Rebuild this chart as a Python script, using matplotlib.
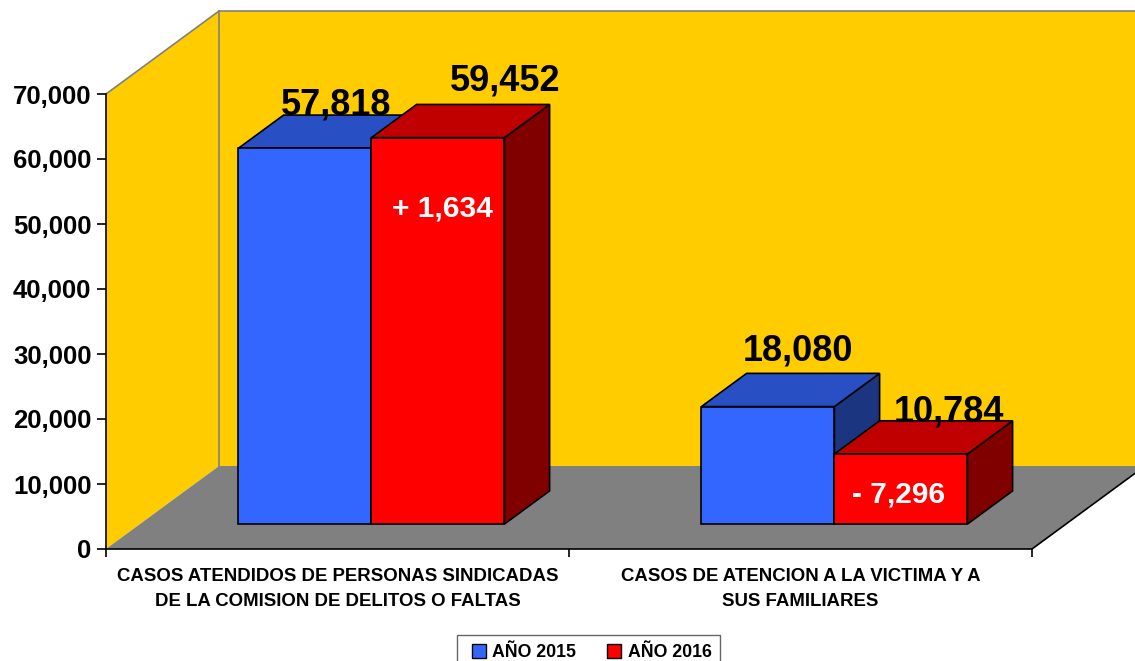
import matplotlib
matplotlib.use('Agg')
import matplotlib.pyplot as plt
from matplotlib.patches import Polygon
from matplotlib.lines import Line2D

# ---------------- data ----------------
categories = ["CASOS ATENDIDOS DE PERSONAS SINDICADAS\nDE LA COMISION DE DELITOS O FALTAS",
              "CASOS DE ATENCION A LA VICTIMA Y A\nSUS FAMILIARES"]
series_names = ["AÑO 2015", "AÑO 2016"]
values_2015 = [57818, 18080]
values_2016 = [59452, 10784]
yticks = [0, 10000, 20000, 30000, 40000, 50000, 60000, 70000]

# ---------------- style ----------------
plt.rcParams['font.family'] = ['Liberation Sans', 'DejaVu Sans']
plt.rcParams['font.weight'] = 'bold'

YELLOW = '#FFCC00'
FLOOR = '#808080'
WALL_EDGE = '#808080'
face_colors = [('#3366FF', '#2850C4', '#1C3580'),   # front, top, side
               ('#FF0000', '#C00000', '#800000')]

W, H = 1135, 661
fig = plt.figure(figsize=(W / 100, H / 100), dpi=100)
ax_l, ax_t, ax_w, ax_h = 106, 94, 926, 455
ax = fig.add_axes([ax_l / W, 1 - (ax_t + ax_h) / H, ax_w / W, ax_h / H])
ymax = 70000
ncat = len(categories)
ax.set_xlim(0, ncat)
ax.set_ylim(0, ymax)
ax.patch.set_visible(False)

# depth of the 3D box in data units
DX = 113 / ax_w * ncat
DY = 83 / ax_h * ymax
bar_w = 133 / ax_w * ncat
z0, z1 = 0.3, 0.7

# walls and floor
ax.add_patch(Polygon([(0, 0), (0, ymax), (DX, ymax + DY), (DX, DY)],
                     closed=True, fc=YELLOW, ec='none', zorder=1, clip_on=False))
ax.add_patch(Polygon([(DX, DY), (DX, ymax + DY), (ncat + DX, ymax + DY), (ncat + DX, DY)],
                     closed=True, fc=YELLOW, ec='none', zorder=1, clip_on=False))
ax.add_patch(Polygon([(0, 0), (ncat, 0), (ncat + DX, DY), (DX, DY)],
                     closed=True, fc=FLOOR, ec='none', zorder=1.5, clip_on=False))
ax.plot([0, DX, ncat + DX], [ymax, ymax + DY, ymax + DY], color=WALL_EDGE, lw=1.2,
        zorder=2, clip_on=False, solid_joinstyle='miter')
ax.plot([DX, DX], [DY, ymax + DY], color=WALL_EDGE, lw=1.2, zorder=2, clip_on=False)
ax.plot([ncat, ncat + DX], [0, DY], color='black', lw=1.2, zorder=2, clip_on=False)


def draw_bar(xl, v, cols, z):
    xr = xl + bar_w
    a0, b0 = z0 * DX, z0 * DY
    a1, b1 = z1 * DX, z1 * DY
    side = [(xr + a0, b0), (xr + a1, b1), (xr + a1, b1 + v), (xr + a0, b0 + v)]
    top = [(xl + a0, b0 + v), (xr + a0, b0 + v), (xr + a1, b1 + v), (xl + a1, b1 + v)]
    front = [(xl + a0, b0), (xr + a0, b0), (xr + a0, b0 + v), (xl + a0, b0 + v)]
    for pts, c in ((side, cols[2]), (top, cols[1]), (front, cols[0])):
        ax.add_patch(Polygon(pts, closed=True, fc=c, ec='black', lw=1.2,
                             joinstyle='miter', zorder=z, clip_on=False))
    return (xl + a0 + bar_w / 2, b0 + v)


# label offsets in pixels (style): (dx, dy) from top-centre of front face
label_off_2015 = [(31, 34), (30, 46)]
label_off_2016 = [(67, 47), (48, 33)]
diff_off = [(5, -79), (-2, -48)]

z = 3
for i in range(ncat):
    c = i + 0.5
    p15 = draw_bar(c - bar_w, values_2015[i], face_colors[0], z)
    p16 = draw_bar(c, values_2016[i], face_colors[1], z + 1)
    z += 2
    ax.annotate(f"{values_2015[i]:,}", xy=p15, xytext=label_off_2015[i],
                textcoords='offset pixels', ha='center', va='baseline',
                fontsize=26, fontweight='bold', color='black', zorder=20,
                annotation_clip=False)
    ax.annotate(f"{values_2016[i]:,}", xy=p16, xytext=label_off_2016[i],
                textcoords='offset pixels', ha='center', va='baseline',
                fontsize=26, fontweight='bold', color='black', zorder=20,
                annotation_clip=False)
    d = values_2016[i] - values_2015[i]
    txt = f"+ {d:,}" if d > 0 else f"- {abs(d):,}"
    ax.annotate(txt, xy=p16, xytext=diff_off[i], textcoords='offset pixels',
                ha='center', va='baseline', fontsize=21.5, fontweight='bold',
                color='white', zorder=20, annotation_clip=False)

# axes
for s in ('top', 'right'):
    ax.spines[s].set_visible(False)
for s in ('left', 'bottom'):
    ax.spines[s].set_color('black')
    ax.spines[s].set_linewidth(1.2)
    ax.spines[s].set_zorder(2.5)

ax.set_yticks(yticks)
ax.set_yticklabels([f"{t:,}" for t in yticks])
ax.tick_params(axis='y', length=6.5, width=1.2, pad=4, labelsize=18.5, color='black')
for lab in ax.get_yticklabels():
    lab.set_fontweight('bold')

ax.set_xticks(list(range(ncat + 1)))
ax.set_xticklabels([])
ax.tick_params(axis='x', which='major', length=6, width=1.2, direction='out')
ax.set_xticks([i + 0.5 for i in range(ncat)], minor=True)
ax.set_xticklabels(categories, minor=True)
ax.tick_params(axis='x', which='minor', length=0, pad=14, labelsize=13.4)
for lab in ax.get_xticklabels(minor=True):
    lab.set_fontweight('bold')
    lab.set_linespacing(1.6)

# legend
handles = [Line2D([], [], marker='s', linestyle='none', markersize=9.4,
                  markerfacecolor=face_colors[k][0], markeredgecolor='black',
                  markeredgewidth=1) for k in range(2)]
leg = fig.legend(handles, series_names, loc='upper center',
                 bbox_to_anchor=(588.5 / W, 1 - 635 / H), ncol=2,
                 prop={'size': 12.8, 'weight': 'bold'}, frameon=True, fancybox=False,
                 edgecolor='#404040', handlelength=1.5, handletextpad=0.0,
                 columnspacing=1.4, borderpad=0.5, borderaxespad=0)
leg.get_frame().set_linewidth(1)

fig.savefig('out.png', dpi=100)
